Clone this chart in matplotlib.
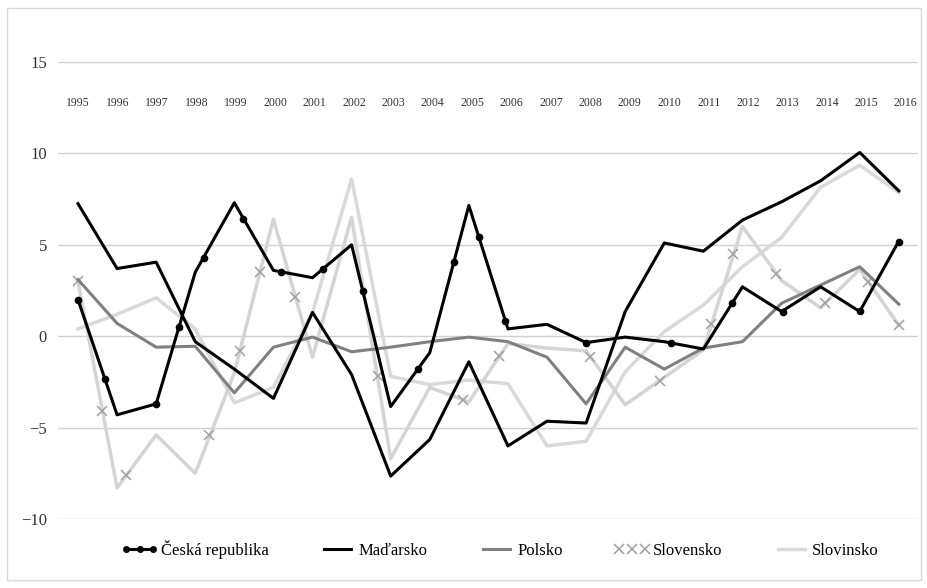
import numpy as np
import matplotlib
matplotlib.use('Agg')
import matplotlib.pyplot as plt
from matplotlib.lines import Line2D
from matplotlib.patches import Rectangle
from matplotlib.transforms import blended_transform_factory

plt.rcParams['font.family'] = ['Liberation Serif', 'DejaVu Serif']

# data
years = list(range(1995, 2017))
ceska = [2.0, -4.3, -3.7, 3.5, 7.3, 3.6, 3.2, 5.0, -3.85, -0.9, 7.15,
         0.4, 0.65, -0.35, -0.05, -0.3, -0.7, 2.7, 1.35, 2.7, 1.35, 5.2]
madarsko = [7.25, 3.7, 4.05, -0.3, -1.8, -3.4, 1.3, -2.1, -7.65, -5.65, -1.4,
            -6.0, -4.65, -4.75, 1.35, 5.1, 4.65, 6.35, 7.35, 8.5, 10.05, 7.95]
polsko = [3.1, 0.7, -0.6, -0.55, -3.1, -0.6, -0.05, -0.85, -0.6, -0.3, -0.05,
          -0.3, -1.15, -3.7, -0.6, -1.8, -0.65, -0.3, 1.8, 2.8, 3.8, 1.75]
slovensko = [3.0, -8.3, -5.4, -7.5, -2.0, 6.4, -1.15, 6.5, -6.7, -2.8, -3.6,
             -0.4, -0.65, -0.8, -3.75, -2.25, -0.75, 6.0, 3.05, 1.55, 3.65, 0.6]
slovinsko = [0.4, 1.2, 2.1, 0.4, -3.65, -2.8, 1.3, 8.6, -2.2, -2.65, -2.4,
             -2.6, -6.0, -5.75, -1.95, 0.25, 1.7, 3.8, 5.4, 8.15, 9.35, 7.85]

# marker decorations sit along the lines, not on the yearly points
ceska_dot_x = [1995.0, 1995.69, 1997.0, 1997.58, 1998.22, 1999.22, 2000.19,
               2001.27, 2002.29, 2003.7, 2004.61, 2005.26, 2005.92, 2008.0,
               2010.17, 2011.73, 2013.03, 2015.0, 2016.0]
ceska_dot_y = [2.0, -2.35, -3.7, 0.5, 4.3, 6.4, 3.5, 3.7, 2.45, -1.8, 4.05,
               5.45, 0.82, -0.36, -0.35, 1.8, 1.33, 1.36, 5.18]
slovensko_x_x = [1995.0, 1995.61, 1996.23, 1998.35, 1999.14, 1999.65, 2000.55,
                 2002.67, 2004.85, 2005.77, 2008.09, 2009.88, 2011.19, 2011.75,
                 2012.85, 2014.1, 2015.2, 2016.0]
slovensko_x_y = [3.0, -4.1, -7.6, -5.4, -0.8, 3.5, 2.15, -2.2, -3.5, -1.1,
                 -1.15, -2.45, 0.65, 4.5, 3.4, 1.8, 2.95, 0.6]

labels = ['Česká republika', 'Maďarsko', 'Polsko', 'Slovensko', 'Slovinsko']

fig = plt.figure(figsize=(9.28, 5.88), dpi=100)
ax = fig.add_axes([0.0625, 0.1173, 0.9265, 0.7773])

light = '#d9d9d9'
ax.plot(years, slovinsko, color=light, linewidth=2.5, zorder=2)
ax.plot(years, slovensko, color='#d4d4d4', linewidth=2.5, zorder=2)
ax.plot(slovensko_x_x, slovensko_x_y, linestyle='none', marker='x',
        markersize=6.5, markeredgewidth=1.1, color='#a0a0a0', zorder=3)
ax.plot(years, polsko, color='#808080', linewidth=2.2, zorder=4)
ax.plot(years, madarsko, color='black', linewidth=2.2, zorder=5)
ax.plot(years, ceska, color='black', linewidth=2.2, zorder=5)
ax.plot(ceska_dot_x, ceska_dot_y, linestyle='none', marker='o',
        markersize=4.5, color='black', zorder=6)

ax.set_xlim(1995 - 20 / 39.1, 2016 + 19 / 39.1)
ax.set_ylim(-10, 15)
ax.set_yticks([-10, -5, 0, 5, 10, 15])
ax.set_xticks([])
ax.grid(axis='y', color='#d0d0d0', linewidth=1.0)
ax.set_axisbelow(True)
for s in ax.spines.values():
    s.set_visible(False)
ax.tick_params(axis='y', length=0, pad=8, labelsize=12, labelcolor='#333333')

# year labels sit high up in the plot, slightly wider spaced than the data
trans = blended_transform_factory(ax.transAxes, ax.transData)
x0, x1 = 0.0233, 0.986
for i, yr in enumerate(years):
    ax.text(x0 + i * (x1 - x0) / 21, 12.75, str(yr), transform=trans,
            ha='center', va='center', fontsize=8.5, color='#333333')

handles = [
    Line2D([], [], color='black', linewidth=2.2, marker='o', markersize=4),
    Line2D([], [], color='black', linewidth=2.2),
    Line2D([], [], color='#808080', linewidth=2.2),
    Line2D([], [], linestyle='none', marker='x', markersize=6.5,
           markeredgewidth=1.1, color='#a0a0a0'),
    Line2D([], [], color=light, linewidth=2.5),
]
fig.legend(handles, labels, ncol=5, loc='center', bbox_to_anchor=(0.539, 0.066),
           frameon=False, fontsize=12, numpoints=3, handlelength=2.2,
           handletextpad=0.15, columnspacing=3.05)

fig.patches.append(Rectangle((7 / 928, 8 / 588), 914 / 928, 572 / 588,
                             transform=fig.transFigure, fill=False,
                             edgecolor='#d9d9d9', linewidth=1.0))

plt.savefig('out.png', dpi=100)
plt.close()
